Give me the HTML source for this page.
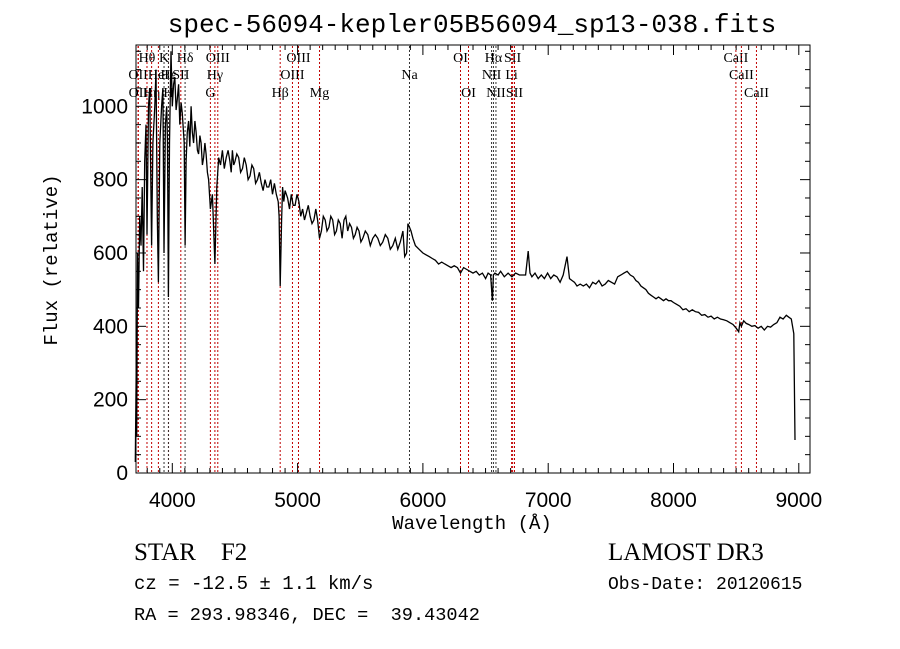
<!DOCTYPE html>
<html><head><meta charset="utf-8"><style>
html,body{margin:0;padding:0;background:#fff;}
svg{display:block;}
text{white-space:pre;}
.tk{font-family:"Liberation Sans",sans-serif;font-size:21px;fill:#000;}
.mono{font-family:"Liberation Mono",monospace;fill:#000;}
.serif{font-family:"Liberation Serif",serif;fill:#000;}
</style></head><body>
<svg id="chart" width="900" height="649" viewBox="0 0 900 649" xmlns="http://www.w3.org/2000/svg">
<rect width="900" height="649" fill="#fff"/>
<text class="mono" x="472" y="32" font-size="26" text-anchor="middle">spec-56094-kepler05B56094_sp13-038.fits</text>
<g id="lines"></g>
<g id="ticks"></g>
<path id="spec" fill="none" stroke="#000" stroke-width="1.3"/>
<rect x="136" y="45" width="674" height="428" fill="none" stroke="#000" stroke-width="1"/>
<text class="mono" x="472" y="529" font-size="19" text-anchor="middle">Wavelength (Å)</text>
<text class="mono" x="57" y="260" font-size="19" text-anchor="middle" transform="rotate(-90 57 260)">Flux (relative)</text>
<text class="serif" x="134" y="560" font-size="25">STAR    F2</text>
<text class="serif" x="608" y="560" font-size="25">LAMOST DR3</text>
<text class="mono" x="134" y="589" font-size="19">cz = -12.5 ± 1.1 km/s</text>
<text class="mono" x="608" y="589" font-size="18">Obs-Date: 20120615</text>
<text class="mono" x="134" y="620" font-size="18.6">RA = 293.98346, DEC =  39.43042</text>
</svg>
<script>
const wavelengths=[3705,3712,3716,3722,3730,3740,3750,3760,3770,3780,3790,3798,3810,3820,3835,3845,3860,3870,3880,3889,3900,3915,3925,3934,3945,3955,3962,3969,3978,3990,4000,4010,4020,4030,4040,4050,4060,4070,4080,4095,4102,4110,4120,4130,4140,4150,4160,4170,4180,4190,4200,4210,4220,4230,4240,4250,4260,4270,4280,4290,4304,4320,4340,4355,4370,4385,4400,4415,4430,4445,4460,4470,4480,4490,4500,4515,4530,4545,4560,4575,4590,4605,4620,4635,4650,4665,4680,4695,4710,4725,4740,4755,4770,4785,4800,4815,4830,4845,4852,4861,4872,4880,4890,4900,4920,4935,4950,4965,4980,4995,5010,5025,5040,5055,5070,5085,5100,5115,5130,5145,5160,5175,5190,5205,5220,5235,5250,5265,5280,5295,5310,5325,5340,5355,5370,5385,5400,5415,5430,5445,5460,5475,5490,5505,5520,5540,5560,5580,5600,5620,5640,5660,5680,5700,5720,5740,5760,5780,5800,5820,5840,5855,5870,5880,5893,5905,5920,5940,5970,6000,6025,6050,6075,6100,6125,6150,6175,6200,6225,6250,6275,6300,6325,6350,6375,6400,6425,6450,6475,6500,6520,6540,6555,6563,6575,6600,6620,6650,6680,6710,6740,6770,6800,6820,6840,6855,6870,6895,6920,6945,6970,6995,7020,7045,7070,7095,7120,7150,7170,7190,7210,7230,7255,7280,7305,7330,7355,7380,7405,7430,7455,7480,7505,7530,7555,7580,7605,7630,7655,7680,7700,7720,7740,7760,7780,7800,7820,7840,7860,7880,7900,7920,7940,7960,7980,8000,8025,8050,8075,8100,8125,8150,8175,8200,8225,8250,8275,8300,8325,8350,8375,8400,8425,8450,8475,8500,8520,8530,8542,8560,8580,8600,8625,8650,8675,8700,8725,8750,8775,8800,8825,8850,8875,8900,8920,8940,8960,8970,8980,8985,8990];
const fluxes=[30,280,100,600,450,700,620,780,550,850,950,650,1000,1050,620,900,1000,1100,700,520,900,1000,1050,600,950,1000,900,480,900,1150,1000,1060,1080,990,1020,1060,950,1010,980,900,620,850,930,960,890,1000,930,900,960,930,880,870,920,900,840,860,900,870,820,800,720,760,570,780,860,840,880,830,860,880,850,820,880,840,850,870,860,820,830,860,840,800,810,840,830,790,800,820,790,770,800,780,780,800,760,790,760,740,700,510,690,780,740,770,750,720,760,730,730,760,740,700,720,690,710,730,700,680,690,720,690,640,660,700,690,660,670,700,690,650,660,690,680,640,690,700,660,680,670,640,650,670,660,630,640,660,650,620,640,650,640,620,630,650,640,610,620,640,610,630,660,590,600,680,670,660,640,620,610,600,595,590,585,580,570,575,570,565,560,565,560,545,560,555,550,545,550,540,545,530,545,540,470,540,545,540,550,535,545,535,545,540,540,540,605,545,535,545,530,540,530,545,530,540,535,520,540,590,530,525,520,510,515,510,515,505,520,515,525,510,515,525,520,515,535,540,545,550,540,535,525,520,510,505,500,490,485,480,475,480,475,470,475,470,470,465,460,455,445,448,440,445,440,438,430,432,425,428,420,425,420,418,415,410,405,395,385,410,400,415,408,405,400,402,395,400,390,400,398,405,410,425,420,430,425,420,380,90];
const lineWaves=[3727,3729,3798,3835,3889,3934,3970,3969,4068,4102,4304,4340,4363,4861,4959,5007,5175,5893,6300,6364,6548,6563,6583,6708,6716,6731,8498,8542,8662];
const lineLabels=["OII","OII","Hθ","Hη","HeI","K","Hε","H","SII","Hδ","G","Hγ","OIII","Hβ","OIII","OIII","Mg","Na","OI","OI","NII","Hα","NII","Li","SII","SII","CaII","CaII","CaII"];
const lineRows=[2,3,1,3,2,1,2,3,2,1,3,2,1,3,2,1,3,2,1,3,2,1,3,2,1,3,1,2,3];
const lineBlack=[0,0,0,0,0,1,0,1,0,1,0,0,0,0,0,0,0,1,0,0,1,1,1,0,0,0,0,0,0];
const xTicks=[4000,5000,6000,7000,8000,9000];
const yTicks=[0,200,400,600,800,1000];
const X=w=>172.3+(w-4000)*0.1253;
const Y=v=>473-v*0.3667;
const NS="http://www.w3.org/2000/svg";
function mk(tag,parent){const e=document.createElementNS(NS,tag);parent.appendChild(e);return e;}
let d="";
for(let i=0;i<wavelengths.length;i++){d+=(i?"L":"M")+X(wavelengths[i]).toFixed(1)+","+Math.max(45,Math.min(473,Y(fluxes[i]))).toFixed(1);}
document.getElementById("spec").setAttribute("d",d);
const lg=document.getElementById("lines");
const rowY=[0,62,79,97];
for(let i=0;i<lineWaves.length;i++){
 const x=X(lineWaves[i]);
 const l=mk("line",lg);
 l.setAttribute("x1",x);l.setAttribute("x2",x);l.setAttribute("y1",46);l.setAttribute("y2",473);
 l.setAttribute("stroke",lineBlack[i]?"#333":"#c00000");l.setAttribute("stroke-width","1");l.setAttribute("stroke-dasharray","2,2");
 
 
 const t=mk("text",lg);
 t.setAttribute("x",x);t.setAttribute("y",rowY[lineRows[i]]);t.setAttribute("text-anchor","middle");
 t.setAttribute("class","serif");t.setAttribute("font-size","14");
 t.textContent=lineLabels[i];
 
 
}
const tg=document.getElementById("ticks");
function tick(x1,y1,x2,y2){const l=mk("line",tg);l.setAttribute("x1",x1);l.setAttribute("y1",y1);l.setAttribute("x2",x2);l.setAttribute("y2",y2);l.setAttribute("stroke","#000");l.setAttribute("stroke-width","1");
 
 }
for(let w=3800;w<=9000;w+=100){const x=X(w);const L=(w%1000===0)?10:5;tick(x,473,x,473-L);tick(x,45,x,45+L);}
for(let v=0;v<=1150;v+=50){const y=Y(v);const L=(v%200===0)?10:5;tick(136,y,136+L,y);tick(810,y,810-L,y);}
xTicks.forEach(w=>{const t=mk("text",tg);t.setAttribute("x",X(w));t.setAttribute("y",507);t.setAttribute("text-anchor","middle");t.setAttribute("class","tk");t.textContent=w;
 
 });
yTicks.forEach(v=>{const t=mk("text",tg);t.setAttribute("x",128);t.setAttribute("y",Y(v)+7);t.setAttribute("text-anchor","end");t.setAttribute("class","tk");t.textContent=v;
 
 });
</script>
</body></html>
